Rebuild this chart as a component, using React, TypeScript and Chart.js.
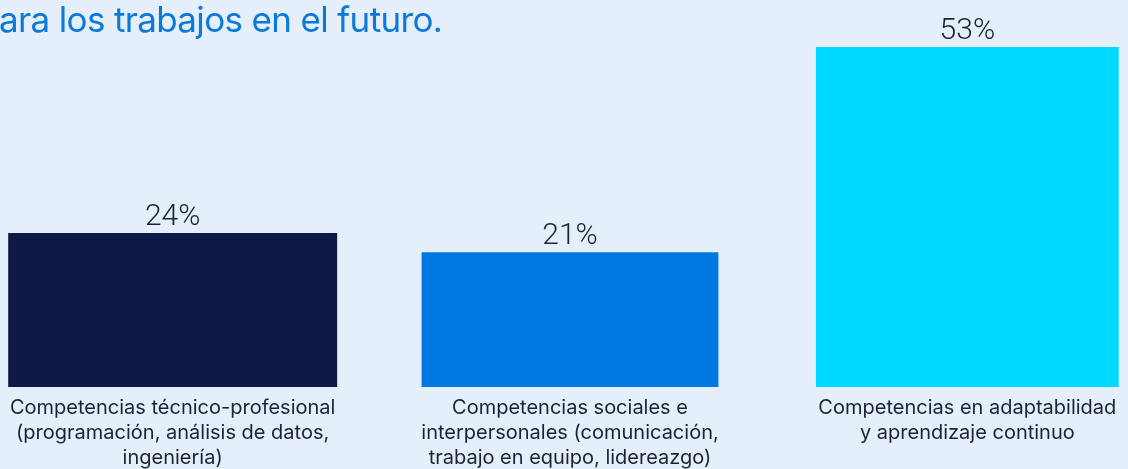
import { useEffect, useRef } from "react";
import { Chart, registerables } from "chart.js";

Chart.register(...registerables);

const categories: string[][] = [
  ["Competencias técnico-profesional", "(programación, análisis de datos,", "ingeniería)"],
  ["Competencias sociales e", "interpersonales (comunicación,", "trabajo en equipo, lidereazgo)"],
  ["Competencias en adaptabilidad", "y aprendizaje continuo"],
];
const values: number[] = [24, 21, 53];
const valueLabels: string[] = ["24%", "21%", "53%"];
const titleText = "ara los trabajos en el futuro.";

const barColors = ["#0e1a45", "#0078e1", "#00d9ff"];
const barPercentages = [0.828, 0.747, 0.762];
const BG = "#e4eff9";
const TEXT = "#1c2238";

const valueLabelPlugin = {
  id: "valueLabels",
  afterDatasetsDraw(chart: any) {
    const ctx = chart.ctx;
    ctx.save();
    ctx.font = "300 30px Roboto";
    ctx.fillStyle = TEXT;
    ctx.textAlign = "center";
    ctx.textBaseline = "alphabetic";
    chart.data.datasets.forEach((ds: any, i: number) => {
      const meta = chart.getDatasetMeta(i);
      meta.data.forEach((el: any, j: number) => {
        const v = ds.data[j];
        if (v === null || v === undefined) return;
        ctx.fillText(valueLabels[j], el.x, el.y - 8);
      });
    });
    ctx.restore();
  },
};

export default function App() {
  const ref = useRef<HTMLCanvasElement | null>(null);

  useEffect(() => {
    document.body.style.margin = "0";
    document.body.style.background = BG;
    document.body.style.overflow = "hidden";
    if (!ref.current) return;
    const chart = new Chart(ref.current, {
      type: "bar",
      data: {
        labels: categories,
        datasets: values.map((v, i) => ({
          data: values.map((vv, j) => (j === i ? vv : null)),
          backgroundColor: barColors[i],
          barPercentage: barPercentages[i],
          categoryPercentage: 1,
          grouped: false,
        })),
      },
      options: {
        animation: false,
        responsive: false,
        layout: { padding: { top: 47, bottom: 0, left: 0, right: 0 } },
        plugins: {
          legend: { display: false },
          tooltip: { enabled: false },
          title: { display: false },
        },
        scales: {
          x: {
            grid: { display: false, drawTicks: false },
            border: { display: false },
            ticks: {
              color: TEXT,
              font: { family: "Inter", size: 20, lineHeight: 1.23 },
              padding: 9,
              maxRotation: 0,
              autoSkip: false,
            },
            afterFit: (scale: any) => {
              scale.height = 82;
            },
          },
          y: {
            display: false,
            min: 0,
            max: 53,
          },
        },
      },
      plugins: [valueLabelPlugin],
    } as any);
    return () => chart.destroy();
  }, []);

  return (
    <div style={{ position: "relative", width: 1128, height: 469, overflow: "hidden", background: BG }}>
      <div style={{ position: "absolute", left: -26, top: 0, width: 1192, height: 469 }}>
        <canvas ref={ref} width={1192} height={469} />
      </div>
      <div
        style={{
          position: "absolute",
          left: -1,
          top: -5,
          fontFamily: "Inter",
          fontSize: 35,
          letterSpacing: "-0.65px",
          color: "#0b79d9",
          whiteSpace: "nowrap",
          lineHeight: "48px",
        }}
      >
        {titleText}
      </div>
    </div>
  );
}
